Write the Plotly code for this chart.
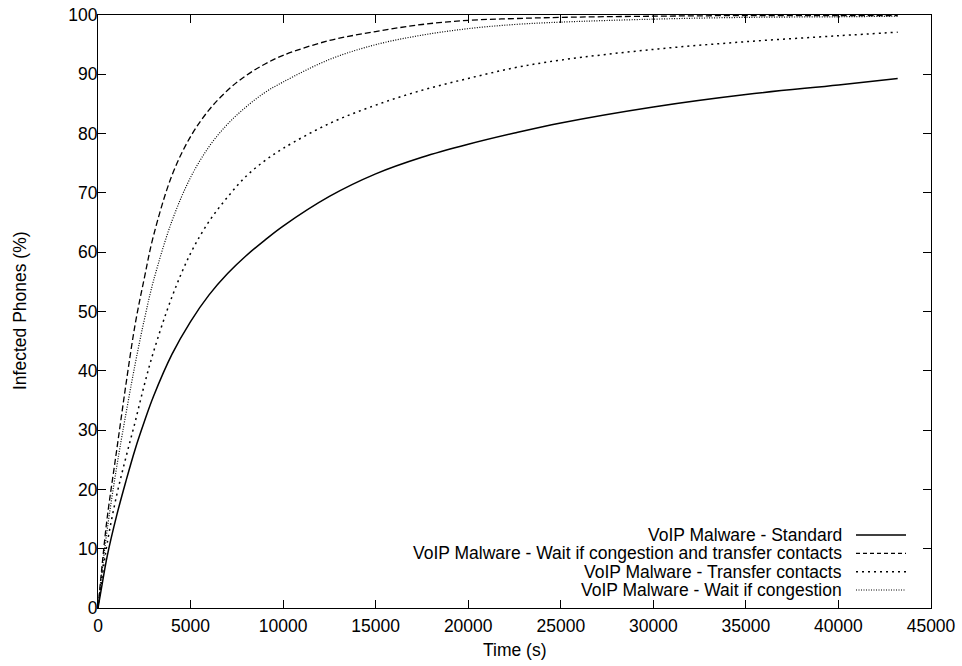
import plotly.graph_objects as go

# Time (s)
time_s = [0, 250, 500, 1000, 1500, 2000, 2500, 3000, 4000, 5000, 6000, 7000, 8000, 9000,
          10000, 12500, 15000, 17500, 20000, 22500, 25000, 30000, 35000, 40000, 43200]

# Infected phones (%)
standard = [0, 4.5, 8.8, 15.5, 21.3, 26.7, 31.4, 35.7, 42.8, 48.3, 52.8, 56.4, 59.4, 62.0,
            64.4, 69.4, 73.2, 76.0, 78.2, 80.1, 81.8, 84.5, 86.6, 88.2, 89.3]
wait_and_transfer = [0, 8.1, 15.3, 26.4, 37.5, 47.7, 55.6, 62.8, 73.0, 79.5, 84.0, 87.3, 89.8, 91.7,
                     93.2, 95.7, 97.2, 98.4, 99.1, 99.4, 99.6, 99.8, 99.9, 99.9, 99.9]
transfer = [0, 5.8, 11.0, 18.9, 25.3, 31.3, 37.6, 43.2, 52.5, 59.8, 65.2, 69.3, 72.8, 75.4,
            77.5, 81.7, 84.8, 87.3, 89.3, 91.1, 92.4, 94.2, 95.5, 96.5, 97.1]
wait_congestion = [0, 7.0, 13.3, 23.6, 32.6, 41.0, 48.6, 55.2, 65.3, 72.6, 77.8, 81.6, 84.5, 86.9,
                   88.7, 92.5, 95.0, 96.6, 97.7, 98.4, 98.8, 99.3, 99.6, 99.7, 99.8]

series_names = ["VoIP Malware - Standard",
                "VoIP Malware - Wait if congestion and transfer contacts",
                "VoIP Malware - Transfer contacts",
                "VoIP Malware - Wait if congestion"]
series_values = [standard, wait_and_transfer, transfer, wait_congestion]
dashes = ["solid", "6px,3px", "2px,4px", "1px,1.5px"]
widths = [1.5, 1.3, 1.5, 1.2]
legend_dashes = ["solid", "4px,3px", "2px,4px", "1px,1.5px"]

FONT = "Liberation Sans, Arial, Helvetica, sans-serif"
FS = 17.5
W, H = 962, 666
L, R, T, B = 98, 31, 15, 58
PW, PH = W - L - R, H - T - B

fig = go.Figure()
for name, vals, d, w in zip(series_names, series_values, dashes, widths):
    fig.add_trace(go.Scatter(x=time_s, y=vals, mode="lines", name=name,
                             line=dict(color="black", dash=d, width=w, shape="spline", smoothing=1.0),
                             showlegend=False))


def px_x(px):
    # page pixel -> paper coordinate
    return (px - L) / PW


def px_y(py):
    return (H - B - py) / PH


# gnuplot-style legend: right-aligned text, sample line to the right
rows = [535, 553.3, 571.7, 590]
shapes = []
annotations = []
for name, d, w, ry in zip(series_names, legend_dashes, widths, rows):
    annotations.append(dict(x=px_x(844), y=px_y(ry), xref="paper", yref="paper",
                            text=name, showarrow=False, xanchor="right", yanchor="middle",
                            font=dict(family=FONT, size=FS, color="black")))
    shapes.append(dict(type="line", xref="paper", yref="paper",
                       x0=px_x(856), x1=px_x(906), y0=px_y(ry), y1=px_y(ry),
                       line=dict(color="black", width=w, dash=d)))

# axis titles
annotations.append(dict(x=px_x(515), y=px_y(650), xref="paper", yref="paper",
                        text="Time (s)", showarrow=False, xanchor="center", yanchor="middle",
                        font=dict(family=FONT, size=FS, color="black")))
annotations.append(dict(x=px_x(20), y=px_y(311), xref="paper", yref="paper",
                        text="Infected Phones (%)", showarrow=False, textangle=-90,
                        xanchor="center", yanchor="middle",
                        font=dict(family=FONT, size=FS, color="black")))

axis_common = dict(showline=True, linecolor="black", linewidth=1, mirror="allticks",
                   ticks="inside", ticklen=8, tickcolor="black", tickwidth=1,
                   showgrid=False, zeroline=False, automargin=False,
                   tickfont=dict(family=FONT, size=FS, color="black"))

fig.update_layout(
    width=W, height=H,
    margin=dict(l=L, r=R, t=T, b=B),
    paper_bgcolor="white", plot_bgcolor="white",
    font=dict(family=FONT, size=FS, color="black"),
    xaxis=dict(range=[0, 45000], dtick=5000, tick0=0, tickformat="d",
               ticklabelstandoff=2, **axis_common),
    yaxis=dict(range=[0, 100], dtick=10, tick0=0,
               ticklabelstandoff=-4, **axis_common),
    shapes=shapes,
    annotations=annotations,
)

# remove the default 8px page margin so the 962x666 figure fills the window exactly
fig.write_html("out.html", config={"displayModeBar": False},
               post_script="document.body.style.margin='0px';")
